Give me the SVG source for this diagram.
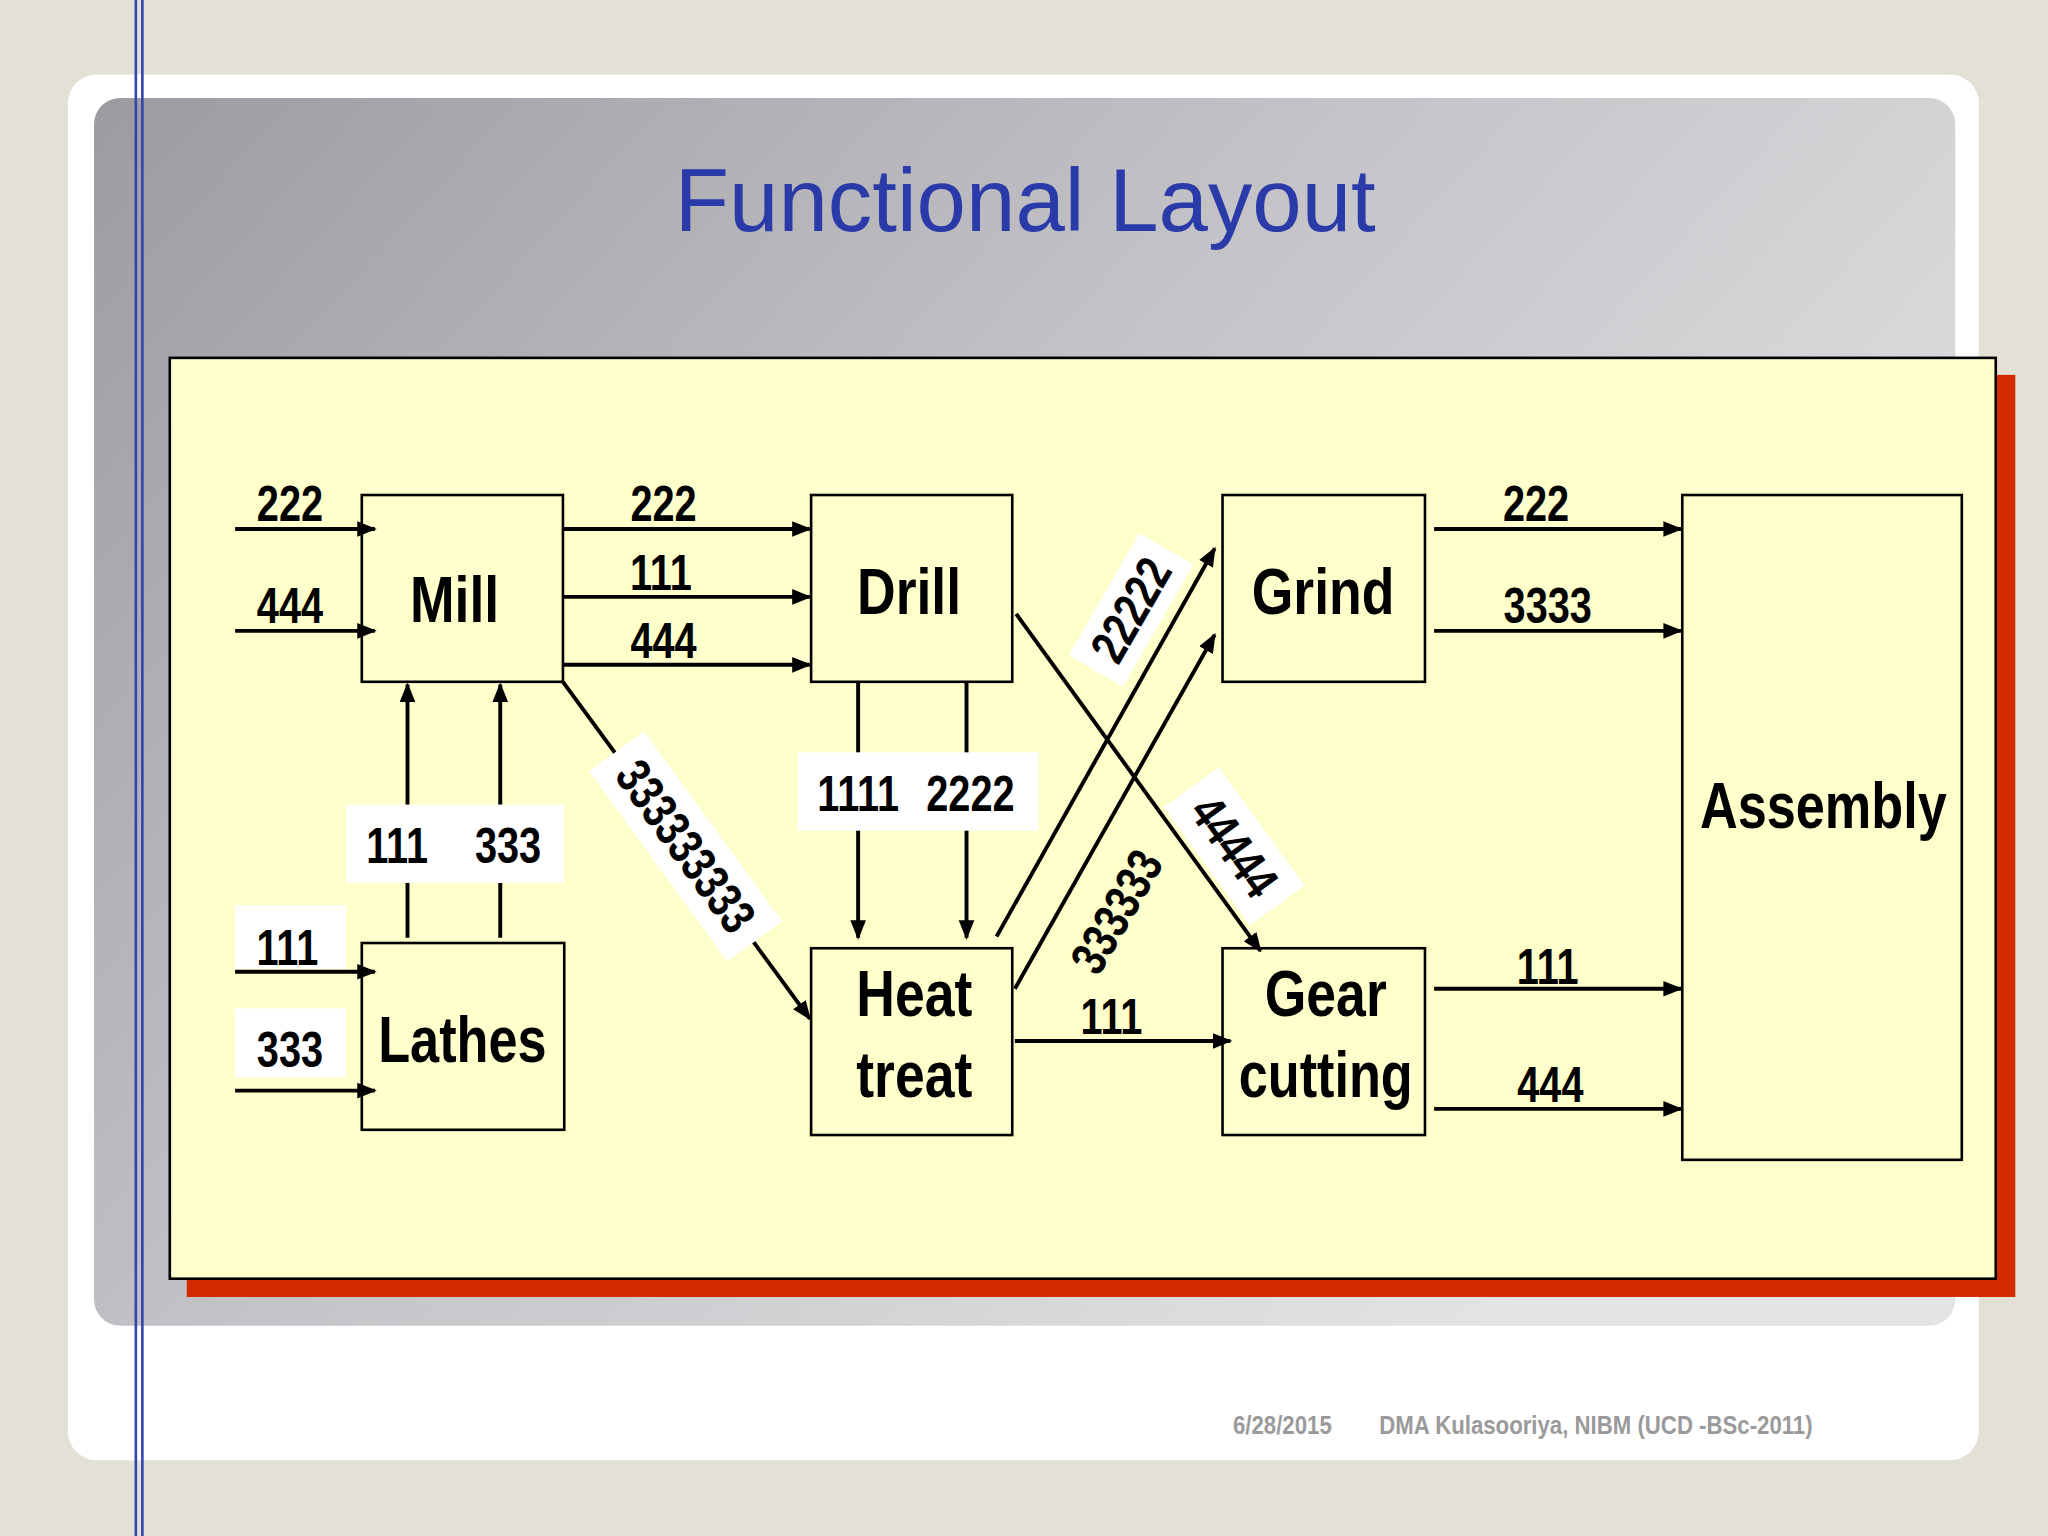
<svg xmlns="http://www.w3.org/2000/svg" width="2048" height="1536" viewBox="0 0 2048 1536">
<defs>
<linearGradient id="gp" x1="0" y1="0" x2="1" y2="0.6">
<stop offset="0" stop-color="#9c9ca0"/><stop offset="0.5" stop-color="#c4c4c8"/><stop offset="1" stop-color="#e4e4e6"/>
</linearGradient>
<marker id="ah" viewBox="0 0 10 10" refX="9" refY="5" markerWidth="5" markerHeight="5" orient="auto" markerUnits="strokeWidth"><path d="M0,1 L10,5 L0,9 z" fill="#000"/></marker>
<style>
.n{fill:#ffffcc;stroke:#000;stroke-width:2}
.c line{stroke:#000;stroke-width:3;marker-end:url(#ah)}
.l{font-family:"Liberation Sans",sans-serif;font-weight:bold;font-size:38px;text-anchor:middle;fill:#000}
.t{font-family:"Liberation Sans",sans-serif;font-weight:bold;font-size:50px;text-anchor:middle;fill:#000}
.f{font-family:"Liberation Sans",sans-serif;font-weight:bold;font-size:20px;fill:#9a9a9a}
.w{fill:#fff}
</style>
</defs>
<rect width="2048" height="1536" fill="#e3e1d6"/>
<g transform="scale(1.30612)">
<rect x="52" y="57" width="1463" height="1061" rx="22" fill="#fff"/>
<rect x="72" y="75" width="1425" height="940" rx="20" fill="url(#gp)"/>
<line x1="104" y1="0" x2="104" y2="1176" stroke="#3344aa" stroke-width="2"/>
<line x1="109" y1="0" x2="109" y2="1176" stroke="#3344aa" stroke-width="2"/>
<text x="785" y="177" font-family="Liberation Sans,sans-serif" font-size="68" fill="#2a3aa8" text-anchor="middle">Functional Layout</text>
<rect x="143" y="287" width="1400" height="706" fill="#d42a00"/>
<rect x="130" y="274" width="1398" height="705" fill="#ffffcc" stroke="#000" stroke-width="2"/>
<g id="mill"><rect class="n" x="277" y="379" width="154" height="143"/><text class="t" transform="translate(348,476) scale(0.82,1)">Mill</text></g>
<g id="drill"><rect class="n" x="621" y="379" width="154" height="143"/><text class="t" transform="translate(696,470) scale(0.82,1)">Drill</text></g>
<g id="grind"><rect class="n" x="936" y="379" width="155" height="143"/><text class="t" transform="translate(1013,470) scale(0.82,1)">Grind</text></g>
<g id="assembly"><rect class="n" x="1288" y="379" width="214" height="509"/><text class="t" transform="translate(1396,634) scale(0.8,1)">Assembly</text></g>
<g id="lathes"><rect class="n" x="277" y="722" width="155" height="143"/><text class="t" transform="translate(354,813) scale(0.8,1)">Lathes</text></g>
<g id="heat"><rect class="n" x="621" y="726" width="154" height="143"/><text class="t" transform="translate(700,778) scale(0.82,1)">Heat</text><text class="t" transform="translate(700,840) scale(0.82,1)">treat</text></g>
<g id="gear"><rect class="n" x="936" y="726" width="155" height="143"/><text class="t" transform="translate(1015,778) scale(0.82,1)">Gear</text><text class="t" transform="translate(1015,840) scale(0.8,1)">cutting</text></g>
<g id="connectors" class="c">
<line x1="180" y1="405" x2="287" y2="405"/><line x1="180" y1="483" x2="287" y2="483"/>
<line x1="431" y1="405" x2="620" y2="405"/><line x1="431" y1="457" x2="620" y2="457"/><line x1="431" y1="509" x2="620" y2="509"/>
<line x1="1098" y1="405" x2="1287" y2="405"/><line x1="1098" y1="483" x2="1287" y2="483"/>
<line x1="1098" y1="757" x2="1287" y2="757"/><line x1="1098" y1="849" x2="1287" y2="849"/>
<line x1="180" y1="744" x2="287" y2="744"/><line x1="180" y1="835" x2="287" y2="835"/>
<line x1="312" y1="718" x2="312" y2="524"/><line x1="383" y1="718" x2="383" y2="524"/>
<line x1="657" y1="523" x2="657" y2="718"/><line x1="740" y1="523" x2="740" y2="718"/>
<line x1="431" y1="522" x2="620" y2="780"/>
<line x1="778" y1="470" x2="965" y2="728"/>
<line x1="763" y1="717" x2="930" y2="420"/>
<line x1="777" y1="757" x2="930" y2="486"/>
<line x1="777" y1="797" x2="942" y2="797"/>
</g>
<g id="labels">
<text class="l" transform="translate(222,399) scale(0.8,1)">222</text><text class="l" transform="translate(222,477) scale(0.8,1)">444</text>
<text class="l" transform="translate(508,399) scale(0.8,1)">222</text><text class="l" transform="translate(506,452) scale(0.8,1)">111</text><text class="l" transform="translate(508,504) scale(0.8,1)">444</text>
<text class="l" transform="translate(1176,399) scale(0.8,1)">222</text><text class="l" transform="translate(1185,477) scale(0.8,1)">3333</text>
<text class="l" transform="translate(1185,753) scale(0.8,1)">111</text><text class="l" transform="translate(1187,844) scale(0.8,1)">444</text>
<rect class="w" x="180" y="693" width="85" height="49"/><text class="l" transform="translate(220,739) scale(0.8,1)">111</text>
<rect class="w" x="180" y="772" width="85" height="53"/><text class="l" transform="translate(222,817) scale(0.8,1)">333</text>
<rect class="w" x="265" y="616" width="167" height="60"/><text class="l" transform="translate(304,661) scale(0.8,1)">111</text><text class="l" transform="translate(389,661) scale(0.8,1)">333</text>
<rect class="w" x="611" y="576" width="184" height="60"/><text class="l" transform="translate(657,621) scale(0.8,1)">1111</text><text class="l" transform="translate(743,621) scale(0.8,1)">2222</text>
<g transform="translate(525,648) rotate(54)"><rect class="w" x="-90" y="-26" width="180" height="52"/><text class="l" transform="translate(0,13) scale(0.8,1)">333333333</text></g>
<g transform="translate(945,648) rotate(54)"><rect class="w" x="-56" y="-26" width="112" height="52"/><text class="l" transform="translate(0,13) scale(0.8,1)">44444</text></g>
<g transform="translate(866,467) rotate(-60)"><rect class="w" x="-54" y="-24" width="108" height="48"/><text class="l" transform="translate(0,13) scale(0.8,1)">22222</text></g>
<g transform="translate(855,698) rotate(-60)"><text class="l" transform="translate(0,13) scale(0.8,1)">333333</text></g>
<text class="l" transform="translate(851,792) scale(0.8,1)">111</text>
</g>
<text class="f" transform="translate(944,1098) scale(0.85,1)">6/28/2015</text>
<text class="f" transform="translate(1056,1098) scale(0.85,1)">DMA Kulasooriya, NIBM (UCD -BSc-2011)</text>
</g>
</svg>
